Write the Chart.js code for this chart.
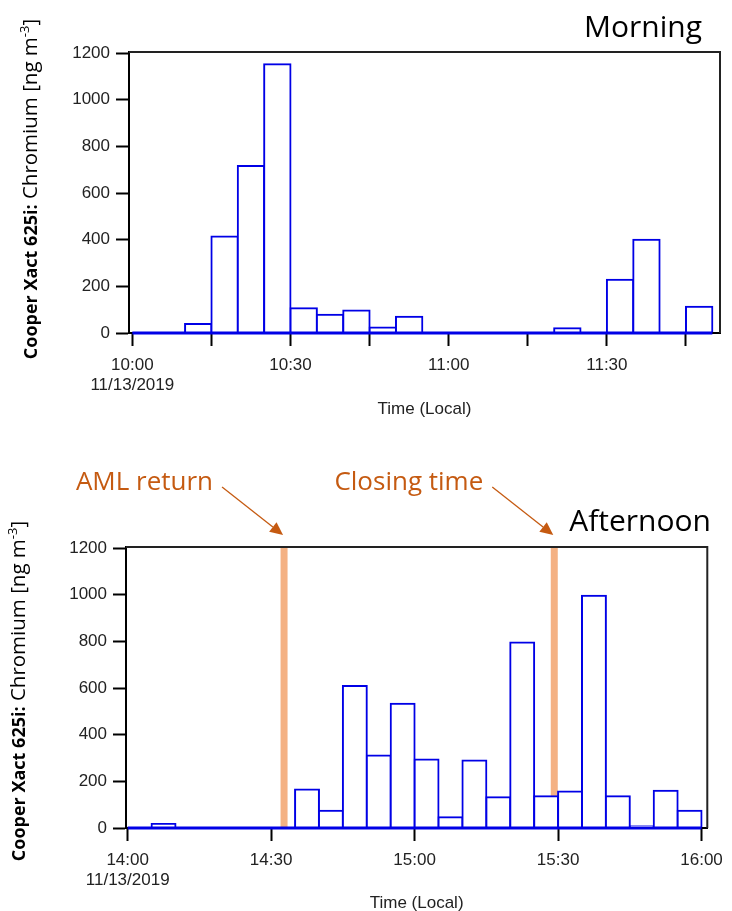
<!DOCTYPE html>
<html>
<head>
<meta charset="utf-8">
<script src="https://cdn.jsdelivr.net/npm/chart.js@4.4.1/dist/chart.umd.min.js"></script>
<style>
  html, body { margin: 0; padding: 0; background: #fff; }
  #wrap { position: relative; width: 732px; height: 911px; }
  canvas { position: absolute; left: 0; }
  #morning { top: 0; }
  #afternoon { top: 440px; }
</style>
</head>
<body>
<div id="wrap">
  <canvas id="morning" width="732" height="440"></canvas>
  <canvas id="afternoon" width="732" height="471"></canvas>
</div>
<script>
// Chromium, 5-minute bins (start time, local), 11/13/2019
const binMinutes = 5;
const dateLabel = '11/13/2019';

const morningBins = ['10:00', '10:05', '10:10', '10:15', '10:20', '10:25', '10:30', '10:35',
  '10:40', '10:45', '10:50', '10:55', '11:00', '11:05', '11:10', '11:15', '11:20', '11:25',
  '11:30', '11:35', '11:40', '11:45'];
const morningChromium = [0, 0, 39, 414, 716, 1153, 106, 78, 96, 24, 70, 0, 0, 0, 0, 0, 20, 0,
  228, 400, 0, 113];

const afternoonBins = ['14:00', '14:05', '14:10', '14:15', '14:20', '14:25', '14:30', '14:35',
  '14:40', '14:45', '14:50', '14:55', '15:00', '15:05', '15:10', '15:15', '15:20', '15:25',
  '15:30', '15:35', '15:40', '15:45', '15:50', '15:55'];
const afternoonChromium = [0, 17, 0, 0, 0, 0, 0, 165, 74, 609, 311, 533, 294, 46, 289, 132,
  796, 136, 156, 996, 136, 8, 160, 74];

// x ticks every 15 min (morning) / 30 min (afternoon)
const morningTicks = ['10:00', '', '10:30', '', '11:00', '', '11:30', ''];
const afternoonTicks = ['14:00', '14:30', '15:00', '15:30', '16:00'];
const yTicks = [0, 200, 400, 600, 800, 1000, 1200];

// events marked on the afternoon panel
const eventLabels = ['AML return', 'Closing time'];
const eventTimes = ['14:32:42', '15:29:12'];

const blue = '#0000e6';
const orange = '#c55a11';
const bandColor = '#f4b183';
const tickFont = { family: '"Liberation Sans", Arial, sans-serif', size: 17 };

function toMin(t) {
  const p = t.split(':').map(Number);
  return p[0] * 60 + p[1] + (p[2] || 0) / 60;
}

function drawYTitle(ctx, baseX, centerY) {
  const parts = [
    { text: 'Cooper Xact 625i:', font: 'bold 18px "Open Sans"', dy: 0 },
    { text: ' Chromium [ng m', font: '20.5px "Open Sans"', dy: 0 },
    { text: '-3', font: '13px "Open Sans"', dy: -8 },
    { text: ']', font: '20.5px "Open Sans"', dy: 0 }
  ];
  ctx.save();
  let total = 0;
  parts.forEach(p => { ctx.font = p.font; p.w = ctx.measureText(p.text).width; total += p.w; });
  ctx.translate(baseX, centerY);
  ctx.rotate(-Math.PI / 2);
  ctx.fillStyle = '#000';
  ctx.textBaseline = 'alphabetic';
  ctx.textAlign = 'left';
  let x = -total / 2;
  parts.forEach(p => {
    ctx.font = p.font;
    ctx.fillText(p.text, x, p.dy);
    x += p.w;
  });
  ctx.restore();
}

function makeChart(id, cfg) {
  const origin = toMin(cfg.bins[0]);
  const bars = cfg.bins.map((b, i) => ({ x: toMin(b) - origin + binMinutes / 2, y: cfg.values[i] }));
  const lastEnd = toMin(cfg.bins[cfg.bins.length - 1]) - origin + binMinutes;
  const baseline = [{ x: 0, y: 0 }, { x: lastEnd, y: 0 }];

  const panelPlugin = {
    id: 'panel',
    beforeDatasetsDraw(chart) {
      const { ctx, chartArea: a, scales: { x, y } } = chart;
      ctx.save();
      (cfg.events || []).forEach(ev => {
        const px = x.getPixelForValue(toMin(ev.time) - origin);
        ctx.fillStyle = bandColor;
        ctx.fillRect(px - 3.5, a.top + 1, 7, y.getPixelForValue(0) - a.top - 1);
      });
      ctx.strokeStyle = '#222';
      ctx.lineWidth = 2;
      ctx.beginPath();
      ctx.moveTo(a.left, a.top);
      ctx.lineTo(a.right, a.top);
      ctx.lineTo(a.right, a.bottom);
      ctx.stroke();
      ctx.restore();
    },
    afterDraw(chart) {
      const { ctx, chartArea: a, scales: { x } } = chart;
      drawYTitle(ctx, cfg.titleX, cfg.titleY);
      ctx.save();
      ctx.fillStyle = '#222';
      ctx.font = '17px "Liberation Sans", Arial, sans-serif';
      ctx.textAlign = 'center';
      ctx.textBaseline = 'middle';
      ctx.fillText('Time (Local)', (a.left + a.right) / 2, cfg.xTitleY);

      ctx.fillStyle = '#000';
      ctx.font = '30px "Open Sans"';
      ctx.textAlign = 'right';
      ctx.textBaseline = 'alphabetic';
      ctx.fillText(cfg.panel, cfg.panelX, cfg.panelY);

      (cfg.events || []).forEach(ev => {
        const tipX = x.getPixelForValue(toMin(ev.time) - origin) - 1;
        const tipY = a.top - 12;
        const sx = tipX - 61, sy = tipY - 48;
        ctx.strokeStyle = orange;
        ctx.fillStyle = orange;
        ctx.lineWidth = 1.3;
        const ang = Math.atan2(tipY - sy, tipX - sx);
        const hl = 13, hw = 6;
        const bx = tipX - hl * Math.cos(ang), by = tipY - hl * Math.sin(ang);
        ctx.beginPath();
        ctx.moveTo(sx, sy);
        ctx.lineTo(bx, by);
        ctx.stroke();
        ctx.beginPath();
        ctx.moveTo(tipX, tipY);
        ctx.lineTo(bx + hw * Math.sin(ang), by - hw * Math.cos(ang));
        ctx.lineTo(bx - hw * Math.sin(ang), by + hw * Math.cos(ang));
        ctx.closePath();
        ctx.fill();
        ctx.font = '26px "Open Sans"';
        ctx.textAlign = 'right';
        ctx.fillText(ev.label, sx - 9, sy + 3);
      });
      ctx.restore();
    }
  };

  return new Chart(document.getElementById(id), {
    type: 'bar',
    data: {
      datasets: [
        { type: 'line', data: baseline, borderColor: blue, borderWidth: 3, pointRadius: 0, order: 0, clip: false },
        {
          type: 'bar', data: bars, backgroundColor: '#fff', borderColor: blue, borderWidth: 2,
          borderSkipped: 'start', inflateAmount: 1, barPercentage: 1, categoryPercentage: 1, order: 1
        }
      ]
    },
    options: {
      responsive: false,
      animation: false,
      layout: { padding: cfg.padding },
      plugins: { legend: { display: false }, tooltip: { enabled: false } },
      scales: {
        x: {
          type: 'linear', min: cfg.xMin, max: cfg.xMax, offset: false,
          grid: { display: true, offset: false, drawOnChartArea: false, tickLength: 13, tickColor: '#000', tickWidth: 2 },
          border: { display: true, color: '#000', width: 2 },
          ticks: {
            stepSize: cfg.step, includeBounds: false, autoSkip: false, maxRotation: 0, minRotation: 0,
            padding: 9, color: '#222', font: tickFont,
            callback: (v) => {
              const lbl = cfg.ticks[Math.round(v / cfg.step)] || '';
              return v === 0 ? [lbl, dateLabel] : lbl;
            }
          },
          afterFit: s => { s.height = cfg.xHeight; }
        },
        y: {
          min: 0, max: 1205,
          grid: { display: true, drawOnChartArea: false, tickLength: 13, tickColor: '#000', tickWidth: 2 },
          border: { display: true, color: '#000', width: 2 },
          afterBuildTicks: s => { s.ticks = yTicks.map(v => ({ value: v })); },
          ticks: {
            includeBounds: false, autoSkip: false, padding: 6, color: '#222', font: tickFont,
            callback: v => String(v)
          },
          afterFit: s => { s.width = cfg.yWidth; }
        }
      }
    },
    plugins: [panelPlugin]
  });
}

makeChart('morning', {
  bins: morningBins, values: morningChromium, ticks: morningTicks, step: 15,
  xMin: -0.63, xMax: 111.45,
  padding: { top: 52, right: 12, left: 0, bottom: 0 }, yWidth: 129, xHeight: 107,
  titleX: 36.5, titleY: 189, xTitleY: 409,
  panel: 'Morning', panelX: 702, panelY: 37
});

makeChart('afternoon', {
  bins: afternoonBins, values: afternoonChromium, ticks: afternoonTicks, step: 30,
  xMin: -0.35, xMax: 121.2,
  padding: { top: 107, right: 18, left: 0, bottom: 0 }, yWidth: 126, xHeight: 83,
  titleX: 25, titleY: 251, xTitleY: 463,
  panel: 'Afternoon', panelX: 711, panelY: 91,
  events: eventLabels.map((label, i) => ({ label, time: eventTimes[i] }))
});
</script>
</body>
</html>
